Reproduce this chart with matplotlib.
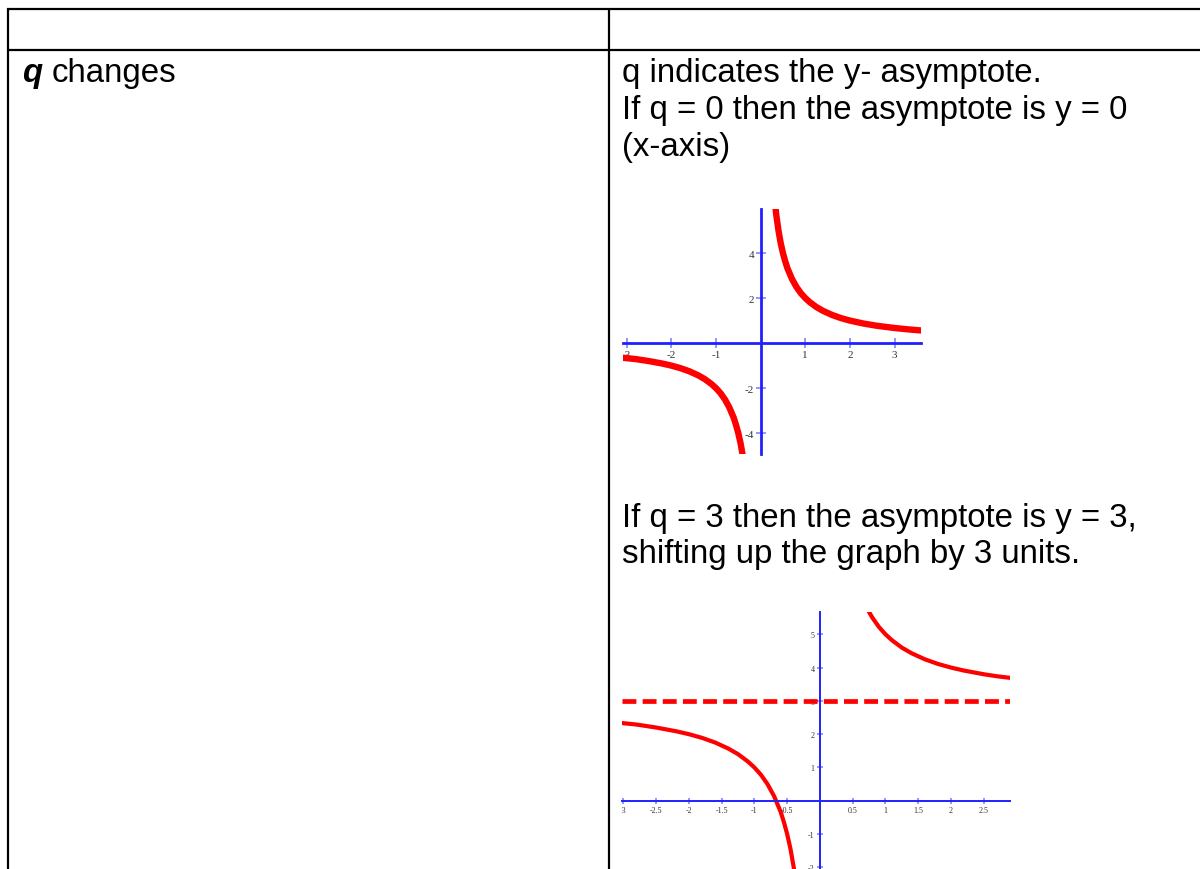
import matplotlib
matplotlib.use("Agg")
import matplotlib.pyplot as plt

plt.rcParams["font.family"] = ["Liberation Sans", "DejaVu Sans"]
plt.rcParams["lines.scale_dashes"] = False

W, H = 1200, 870

# f(x) = 2/x  (q = 0)
q0_right_x = [0.32, 0.35, 0.4, 0.45, 0.5, 0.55, 0.6, 0.7, 0.8, 0.9, 1.0, 1.1,
              1.25, 1.4, 1.6, 1.8, 2.0, 2.3, 2.6, 3.0, 3.3, 3.6]
q0_right_y = [6.25, 5.71, 5.0, 4.44, 4.0, 3.64, 3.33, 2.86, 2.5, 2.22, 2.0, 1.82,
              1.6, 1.43, 1.25, 1.11, 1.0, 0.87, 0.77, 0.67, 0.61, 0.56]
q0_left_x = [-3.1, -2.8, -2.5, -2.2, -2.0, -1.8, -1.6, -1.4, -1.25, -1.1, -1.0,
             -0.9, -0.8, -0.7, -0.6, -0.55, -0.5, -0.45, -0.4, -0.38]
q0_left_y = [-0.65, -0.71, -0.8, -0.91, -1.0, -1.11, -1.25, -1.43, -1.6, -1.82, -2.0,
             -2.22, -2.5, -2.86, -3.33, -3.64, -4.0, -4.44, -5.0, -5.26]
q0_xticks = [-3, -2, -1, 1, 2, 3]
q0_xlabels = ["-3", "-2", "-1", "1", "2", "3"]
q0_yticks = [-4, -2, 2, 4]
q0_ylabels = ["-4", "-2", "2", "4"]

# f(x) = 2/x + 3  (q = 3)
q3_right_x = [0.7, 0.75, 0.8, 0.9, 1.0, 1.1, 1.25, 1.4, 1.6, 1.8, 2.0, 2.2, 2.5, 2.7, 2.95]
q3_right_y = [5.86, 5.67, 5.5, 5.22, 5.0, 4.82, 4.6, 4.43, 4.25, 4.11, 4.0, 3.91, 3.8, 3.74, 3.68]
q3_left_x = [-3.05, -2.8, -2.5, -2.2, -2.0, -1.8, -1.6, -1.4, -1.25, -1.1, -1.0,
             -0.9, -0.8, -0.7, -0.6, -0.55, -0.5, -0.45, -0.4, -0.38]
q3_left_y = [2.34, 2.29, 2.2, 2.09, 2.0, 1.89, 1.75, 1.57, 1.4, 1.18, 1.0,
             0.78, 0.5, 0.14, -0.33, -0.64, -1.0, -1.44, -2.0, -2.26]
q3_asymptote = 3
q3_xticks = [-3, -2.5, -2, -1.5, -1, -0.5, 0.5, 1, 1.5, 2, 2.5]
q3_xlabels = ["-3", "-2.5", "-2", "-1.5", "-1", "-0.5", "0.5", "1", "1.5", "2", "2.5"]
q3_yticks = [-2, -1, 1, 2, 3, 4, 5]
q3_ylabels = ["-2", "-1", "1", "2", "3", "4", "5"]

left_cell = "changes"
right_lines_top = ["q indicates the y- asymptote.",
                   "If q = 0 then the asymptote is y = 0",
                   "(x-axis)"]
right_lines_mid = ["If q = 3 then the asymptote is y = 3,",
                   "shifting up the graph by 3 units."]

fig = plt.figure(figsize=(W / 100, H / 100), dpi=100)

# page / table layer in pixel units
bg = fig.add_axes([0, 0, 1, 1])
bg.set_xlim(0, W)
bg.set_ylim(H, 0)
bg.axis("off")

border = dict(color="black", linewidth=1.6, solid_capstyle="butt")
bg.plot([7, W], [10, 10], **border)
bg.plot([7, W], [51, 51], **border)
bg.plot([8, 8], [9, H], **border)
bg.plot([609, 609], [9, H], **border)

FS = 23.8
bg.text(22, 82, "q", fontsize=FS, fontweight="bold", fontstyle="italic", va="baseline")
bg.text(52, 82, left_cell, fontsize=FS, va="baseline")
for i, line in enumerate(right_lines_top):
    bg.text(622, 82 + 37 * i, line, fontsize=FS, va="baseline")
for i, line in enumerate(right_lines_mid):
    bg.text(622, 527 + 36 * i, line, fontsize=FS, va="baseline")


def graph(box, xlim, ylim, axis_lw, tick_len, label_size):
    l, t, r, b = box
    ax = fig.add_axes([l / W, 1 - b / H, (r - l) / W, (b - t) / H])
    ax.set_xlim(*xlim)
    ax.set_ylim(*ylim)
    ax.patch.set_alpha(0)
    for side in ("top", "right"):
        ax.spines[side].set_visible(False)
    ax.spines["left"].set_position(("data", 0))
    ax.spines["bottom"].set_position(("data", 0))
    for side in ("left", "bottom"):
        ax.spines[side].set_color("#2020ff")
        ax.spines[side].set_linewidth(axis_lw)
    ax.tick_params(direction="inout", length=tick_len, width=1.1, color="#7878ff",
                   labelsize=label_size, labelcolor="#333333", pad=1.5)
    return ax


def finish(ax):
    for lbl in ax.get_xticklabels() + ax.get_yticklabels():
        lbl.set_family(["Liberation Serif", "DejaVu Serif"])
        lbl.set_clip_on(True)
        lbl.set_clip_box(ax.bbox)


# graph for q = 0
ax1 = graph((623, 210, 921, 455), (-3.08, 3.59), (-4.93, 5.96), 2.0, 6.5, 8)
ax1.plot(q0_right_x, q0_right_y, color="#ff0000", linewidth=4.6, solid_capstyle="butt")
ax1.plot(q0_left_x, q0_left_y, color="#ff0000", linewidth=4.6, solid_capstyle="butt")
ax1.set_xticks(q0_xticks, q0_xlabels)
ax1.set_yticks(q0_yticks, q0_ylabels)
finish(ax1)

# graph for q = 3
ax2 = graph((622, 613, 1010, 872), (-3.02, 2.9), (-2.11, 5.67), 1.4, 5, 5.8)
ax2.axhline(q3_asymptote, color="#ff0000", linewidth=3.4, dashes=(10, 4.5))
ax2.plot(q3_right_x, q3_right_y, color="#ff0000", linewidth=3.0, solid_capstyle="butt")
ax2.plot(q3_left_x, q3_left_y, color="#ff0000", linewidth=3.0, solid_capstyle="butt")
ax2.set_xticks(q3_xticks, q3_xlabels)
ax2.set_yticks(q3_yticks, q3_ylabels)
finish(ax2)

fig.savefig("out.png", dpi=100)
